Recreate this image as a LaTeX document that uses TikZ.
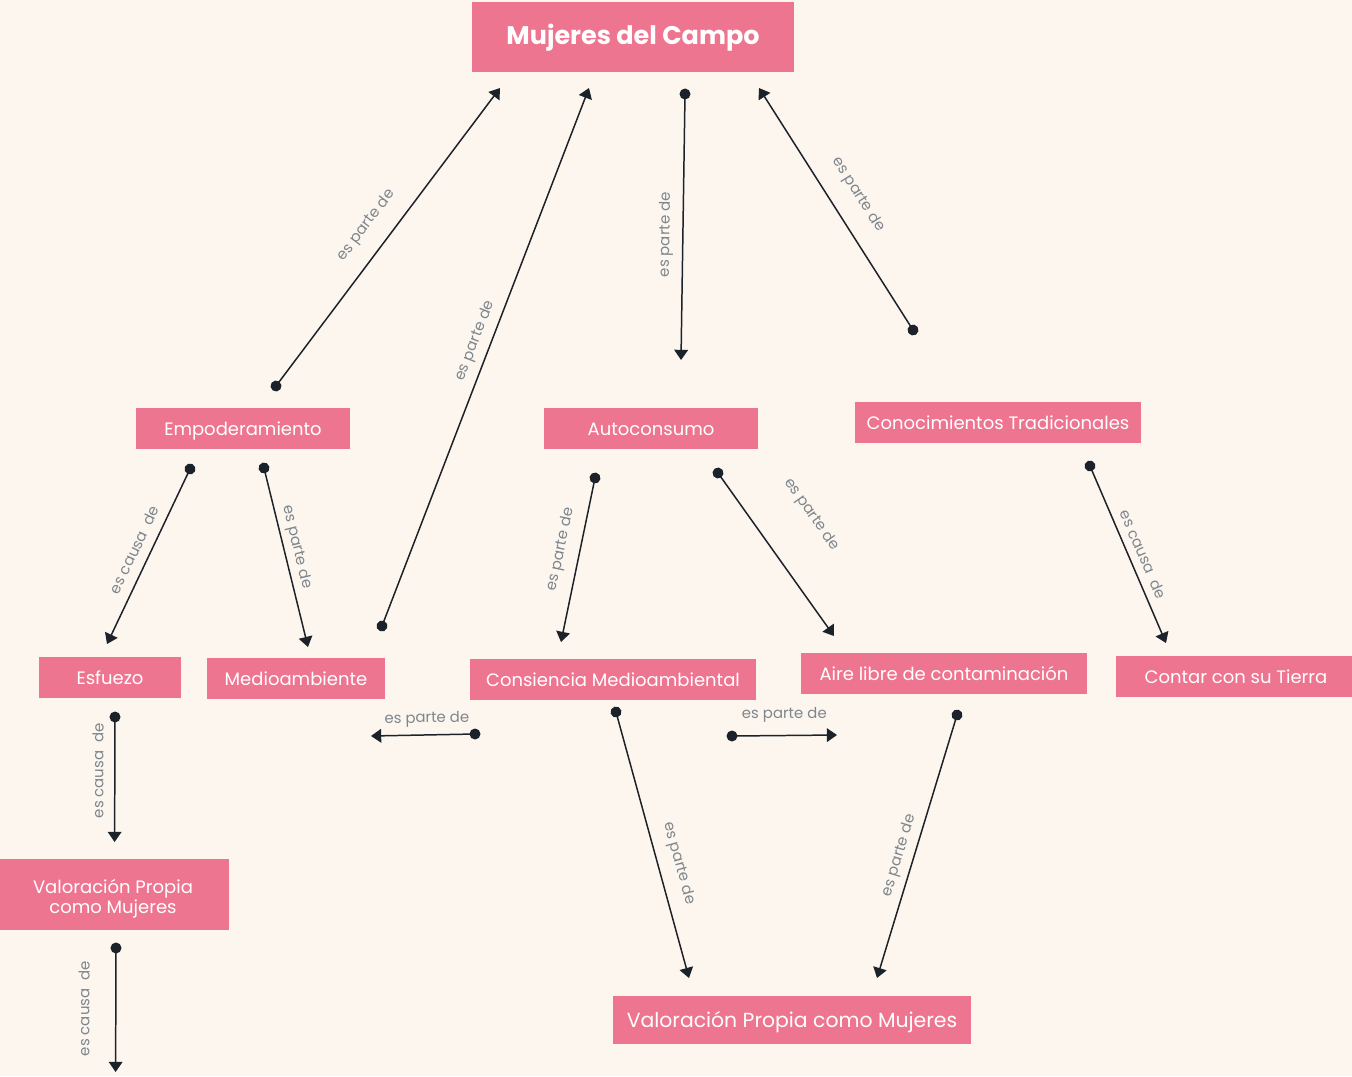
\documentclass[tikz,border=0pt]{standalone}
\usepackage{fontspec}
\setmainfont{Poppins}
\usetikzlibrary{arrows.meta}
\definecolor{rosa}{HTML}{EE7590}
\definecolor{fondo}{HTML}{FDF6EE}
\definecolor{tinta}{HTML}{1C2229}
\definecolor{gris}{HTML}{7E868D}
\tikzset{
        caja/.style={fill=rosa, text=white, font=\fontsize{10.25}{11.4}\selectfont, minimum height=.82cm, align=center, inner sep=2pt},
        concepto/.style={caja, text height=1em, text depth=.17em},
        enlace/.style={draw=tinta, line width=.85pt, shorten <=-3.1pt, {Circle[length=6.2pt]}-{Triangle[length=5.8pt, width=7.8pt]}},
        rel/.style={text=gris, font=\fontsize{8.5}{10}\selectfont, sloped, inner sep=0pt}
}
\begin{document}
\begin{tikzpicture}[x=.02cm, y=-.02cm]
        \fill[fondo](0, 0)rectangle(1352, 1076);
        \useasboundingbox(0, 0)rectangle(1352, 1076);
        % conceptos
        \node[concepto, font=\bfseries\fontsize{14.5}{17}\selectfont, minimum width=6.46cm, minimum height=1.4cm](mujeres)at(633, 37){Mujeres del Campo};
        \node[concepto, minimum width=4.3cm](empo)at(243, 428){Empoderamiento};
        \node[concepto, minimum width=4.3cm](auto)at(651, 428){Autoconsumo};
        \node[concepto, minimum width=5.74cm](cono)at(998, 422){Conocimientos Tradicionales};
        \node[concepto, minimum width=2.86cm](esfu)at(110, 677){Esfuezo};
        \node[concepto, minimum width=3.58cm](medio)at(296, 678){Medioambiente};
        \node[concepto, minimum width=5.72cm](consi)at(613, 679){Consiencia Medioambiental};
        \node[concepto, minimum width=5.72cm](aire)at(944, 673){Aire libre de contaminación};
        \node[concepto, minimum width=4.8cm](tierra)at(1236, 676){Contar con su Tierra};
        \node[caja, minimum width=4.64cm, minimum height=1.42cm](valor)at(113, 894){\rule{0pt}{1.3em}Valoración Propia\\como Mujeres};
        \node[concepto, font=\fontsize{11.6}{14}\selectfont, minimum width=7.18cm, minimum height=.96cm](valorb)at(792, 1020){Valoración Propia como Mujeres};
        % extremos de los enlaces
        \coordinate(empo-a)at(276, 386);    \coordinate(muj-a)at(500, 88);
        \coordinate(medio-a)at(382, 626);   \coordinate(muj-b)at(589, 88);
        \coordinate(muj-c)at(685, 94);      \coordinate(auto-a)at(681, 360);
        \coordinate(cono-a)at(913, 330);    \coordinate(muj-d)at(759, 88);
        \coordinate(empo-b)at(190, 469);    \coordinate(esfu-a)at(107, 644);
        \coordinate(empo-c)at(264, 468);    \coordinate(medio-b)at(308, 647);
        \coordinate(auto-b)at(595, 478);    \coordinate(consi-a)at(561, 642);
        \coordinate(auto-c)at(718, 473);    \coordinate(aire-a)at(834, 636);
        \coordinate(cono-b)at(1090, 466);   \coordinate(tierra-a)at(1166, 643);
        \coordinate(esfu-b)at(115, 717);    \coordinate(valor-a)at(114.6, 842);
        \coordinate(consi-b)at(475, 734);   \coordinate(medio-c)at(371, 736);
        \coordinate(consi-c)at(732, 736);   \coordinate(aire-b)at(837, 735);
        \coordinate(consi-d)at(616, 712);   \coordinate(valorb-a)at(689, 978);
        \coordinate(aire-c)at(957, 715);    \coordinate(valorb-b)at(877, 978);
        \coordinate(valor-b)at(116, 948);   \coordinate(fuera)at(115.6, 1072);
        % enlaces
        \draw[enlace](empo-a)--(muj-a)node[rel, pos=.49, above=9.2pt]{es parte de};
        \draw[enlace](medio-a)--(muj-b)node[rel, pos=.52, above=4pt]{es parte de};
        \draw[enlace](muj-c)--(auto-a)node[rel, pos=.53, above=5pt]{es parte de};
        \draw[enlace](cono-a)--(muj-d)node[rel, pos=.5, above=10.4pt]{es parte de};
        \draw[enlace](empo-b)--(esfu-a)node[rel, pos=.5, above=5.3pt]{es causa~ de};
        \draw[enlace](empo-c)--(medio-b)node[rel, pos=.46, above=2.7pt]{es parte de};
        \draw[enlace](auto-b)--(consi-a)node[rel, pos=.46, above=6pt]{es parte de};
        \draw[enlace](auto-c)--(aire-a)node[rel, pos=.44, above=25pt]{es parte de};
        \draw[enlace](cono-b)--(tierra-a)node[rel, pos=.53, above=4.4pt]{es causa~ de};
        \draw[enlace](esfu-b)--(valor-a)node[rel, pos=.43, above=6pt]{es causa~ de};
        \draw[enlace](consi-b)--(medio-c)node[rel, pos=.46, above=4.3pt]{es parte de};
        \draw[enlace](consi-c)--(aire-b)node[rel, pos=.5, above=7pt]{es parte de};
        \draw[enlace](consi-d)--(valorb-a)node[rel, pos=.59, above=7pt]{es parte de};
        \draw[enlace](aire-c)--(valorb-b)node[rel, pos=.55, above=3.3pt]{es parte de};
        \draw[enlace](valor-b)--(fuera)node[rel, pos=.49, above=14.5pt]{es causa~ de};
\end{tikzpicture}
\end{document}
